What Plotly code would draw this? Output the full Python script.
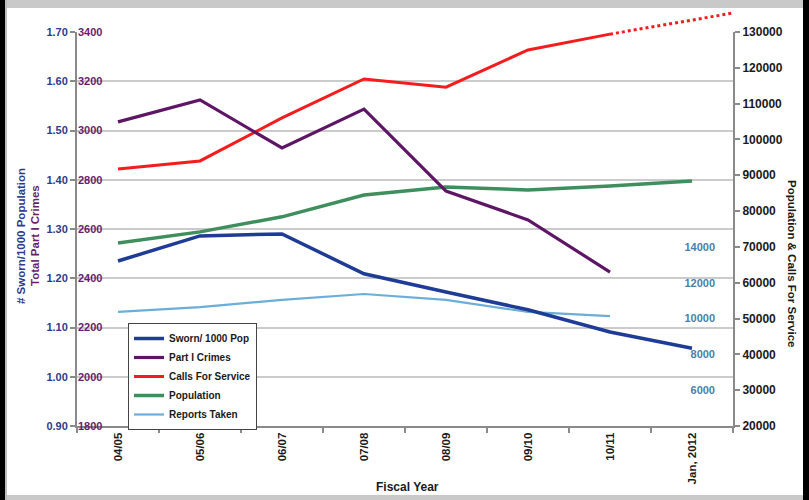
import plotly.graph_objects as go

# ---------------- data ----------------
categories = ["04/05", "05/06", "06/07", "07/08", "08/09", "09/10", "10/11", "Jan, 2012"]
sworn_per_1000 = [1.235, 1.286, 1.290, 1.209, 1.172, 1.136, 1.091, 1.058]
part1_crimes = [3035, 3124, 2929, 3087, 2754, 2637, 2425]
calls_for_service = [91750, 94000, 106000, 116900, 114600, 125000, 129400]
population = [71100, 74200, 78400, 84500, 86700, 85900, 87000, 88400]
reports_taken = [10370, 10640, 11040, 11370, 11040, 10370, 10140]
# dotted projection of calls for service (fractional category index, value)
calls_projection_x = [6, 7.5]
calls_projection = [129400, 135300]

sworn_ticks = [0.9, 1.0, 1.1, 1.2, 1.3, 1.4, 1.5, 1.6, 1.7]
crimes_ticks = [1800, 2000, 2200, 2400, 2600, 2800, 3000, 3200, 3400]
pop_ticks = [20000, 30000, 40000, 50000, 60000, 70000, 80000, 90000, 100000, 110000, 120000, 130000]
reports_ticks = [6000, 8000, 10000, 12000, 14000]

# ---------------- geometry helpers ----------------
W, H = 809, 500
L, R, T, B = 77, 76, 8, 74
PW, PH = W - L - R, H - T - B
PLOT_TOP = 32
dom_top = (H - B - PLOT_TOP) / PH


def px_x(px):
    return (px - L) / PW


def px_y(py):
    return (H - B - py) / PH


FONT = "Liberation Sans, Arial, sans-serif"
C_SWORN = "#1E3C96"
C_SWORN_T = "#2E3A8F"
C_CRIME = "#5E1566"
C_CRIME_T = "#6B1D6B"
C_CALLS = "#F41C1C"
C_POP = "#3F8F5E"
C_REP = "#6AAED9"
C_REP_T = "#4A7FAA"
C_AX = "#8A8A8A"
C_GRID = "#CBCBCB"
C_TXT = "#1A1A1A"

fig = go.Figure()

fig.add_trace(go.Scatter(x=categories[:len(reports_taken)], y=reports_taken, name="Reports Taken",
                         mode="lines", line=dict(color=C_REP, width=2.2), xaxis="x", yaxis="y",
                         legendrank=5))
fig.add_trace(go.Scatter(x=categories[:len(sworn_per_1000)], y=sworn_per_1000, name="Sworn/ 1000 Pop",
                         mode="lines", line=dict(color=C_SWORN, width=3.5), xaxis="x", yaxis="y2",
                         legendrank=1))
fig.add_trace(go.Scatter(x=categories[:len(calls_for_service)], y=calls_for_service, name="Calls For Service",
                         mode="lines", line=dict(color=C_CALLS, width=3), xaxis="x", yaxis="y3",
                         legendrank=3))
fig.add_trace(go.Scatter(x=categories[:len(population)], y=population, name="Population",
                         mode="lines", line=dict(color=C_POP, width=3.5), xaxis="x", yaxis="y3",
                         legendrank=4))
fig.add_trace(go.Scatter(x=categories[:len(part1_crimes)], y=part1_crimes, name="Part I Crimes",
                         mode="lines", line=dict(color=C_CRIME, width=3.2), xaxis="x", yaxis="y4",
                         legendrank=2))
fig.add_trace(go.Scatter(x=calls_projection_x, y=calls_projection, name="Calls projection",
                         mode="lines", line=dict(color=C_CALLS, width=3, dash="dot"),
                         xaxis="x2", yaxis="y5", showlegend=False))

bold = dict(family=FONT, weight="bold")

fig.update_layout(
    template="none",
    width=W, height=H,
    margin=dict(l=L, r=R, t=T, b=B, pad=0),
    paper_bgcolor="white",
    plot_bgcolor="rgba(0,0,0,0)",
    font=dict(family=FONT, size=11, color=C_TXT),
    showlegend=True,
    legend=dict(x=px_x(128), y=px_y(323), xanchor="left", yanchor="top",
                bgcolor="white", bordercolor="#444444", borderwidth=1,
                font=dict(size=10, color=C_TXT, **bold), tracegroupgap=0),
    xaxis=dict(type="category", categoryorder="array", categoryarray=categories,
               domain=[0, 1], anchor="y", range=[-0.5, len(categories) - 0.5],
               tickson="boundaries", ticks="outside", ticklen=5, tickwidth=1.5, tickcolor=C_AX,
               showline=True, linecolor=C_AX, linewidth=2, showgrid=False, zeroline=False,
               tickangle=-90, tickfont=dict(size=11.5, color=C_TXT, **bold), automargin=False),
    yaxis=dict(domain=[0, dom_top], range=[4000, 26000], tickvals=reports_ticks,
               tickformat="d", anchor="free", position=px_x(715), side="left",
               showgrid=False, showline=False, ticks="", zeroline=False,
               tickfont=dict(size=11, color=C_REP_T, **bold), automargin=False),
    yaxis2=dict(overlaying="y", side="left", anchor="x", range=[0.9, 1.7],
                tickvals=sworn_ticks, tickformat=".2f",
                showgrid=True, gridcolor=C_GRID, gridwidth=1.5,
                showline=True, linecolor=C_AX, linewidth=2, zeroline=False,
                ticks="outside", ticklen=5, tickwidth=1.5, tickcolor=C_AX,
                tickfont=dict(size=11, color=C_SWORN_T, **bold), automargin=False),
    yaxis3=dict(overlaying="y", side="right", anchor="x", range=[20000, 130000],
                tickvals=pop_ticks, tickformat="d",
                showgrid=False, showline=True, linecolor=C_AX, linewidth=2, zeroline=False,
                ticks="outside", ticklen=5, tickwidth=1.5, tickcolor=C_AX,
                tickfont=dict(size=12, color=C_TXT, **bold), automargin=False),
    yaxis4=dict(overlaying="y", side="right", anchor="free", position=0, range=[1800, 3400],
                tickvals=crimes_ticks, tickformat="d",
                showgrid=False, showline=False, ticks="", zeroline=False,
                tickfont=dict(size=11, color=C_CRIME_T, **bold), automargin=False),
    xaxis2=dict(domain=[0, 1], anchor="y5", range=[-0.5, len(categories) - 0.5], visible=False),
    yaxis5=dict(domain=[0, 1], anchor="x2", range=[20000, 20000 + (130000 - 20000) / dom_top],
                visible=False),
)

# axis titles
ann = dict(xref="paper", yref="paper", showarrow=False, xanchor="center", yanchor="middle")
fig.add_annotation(text="# Sworn/1000 Population", x=px_x(21), y=px_y(236), textangle=-90,
                   font=dict(size=11.5, color=C_SWORN_T, **bold), **ann)
fig.add_annotation(text="Total Part I Crimes", x=px_x(35), y=px_y(236), textangle=-90,
                   font=dict(size=11.5, color=C_CRIME_T, **bold), **ann)
fig.add_annotation(text="Population & Calls For Service", x=px_x(792), y=px_y(263), textangle=90,
                   font=dict(size=11.5, color=C_TXT, **bold), **ann)
fig.add_annotation(text="Fiscal Year", x=px_x(408), y=px_y(487),
                   font=dict(size=12, color=C_TXT, **bold), **ann)


# frame borders
def rect(x0, y0, x1, y1, color):
    fig.add_shape(type="rect", xref="paper", yref="paper",
                  x0=px_x(x0), x1=px_x(x1), y0=px_y(y1), y1=px_y(y0),
                  fillcolor=color, line=dict(width=0), layer="above")


rect(0, 0, 5, 500, "#000000")
rect(5, 0, 7, 500, "#BDBDBD")
rect(803, 0, 809, 500, "#000000")
rect(7, 0, 803, 8, "#C9C9C9")
rect(7, 495, 803, 500, "#C9C9C9")

fig.write_html("out.html",
               config={"displayModeBar": False},
               post_script="document.body.style.margin='0';document.body.style.overflow='hidden';")
